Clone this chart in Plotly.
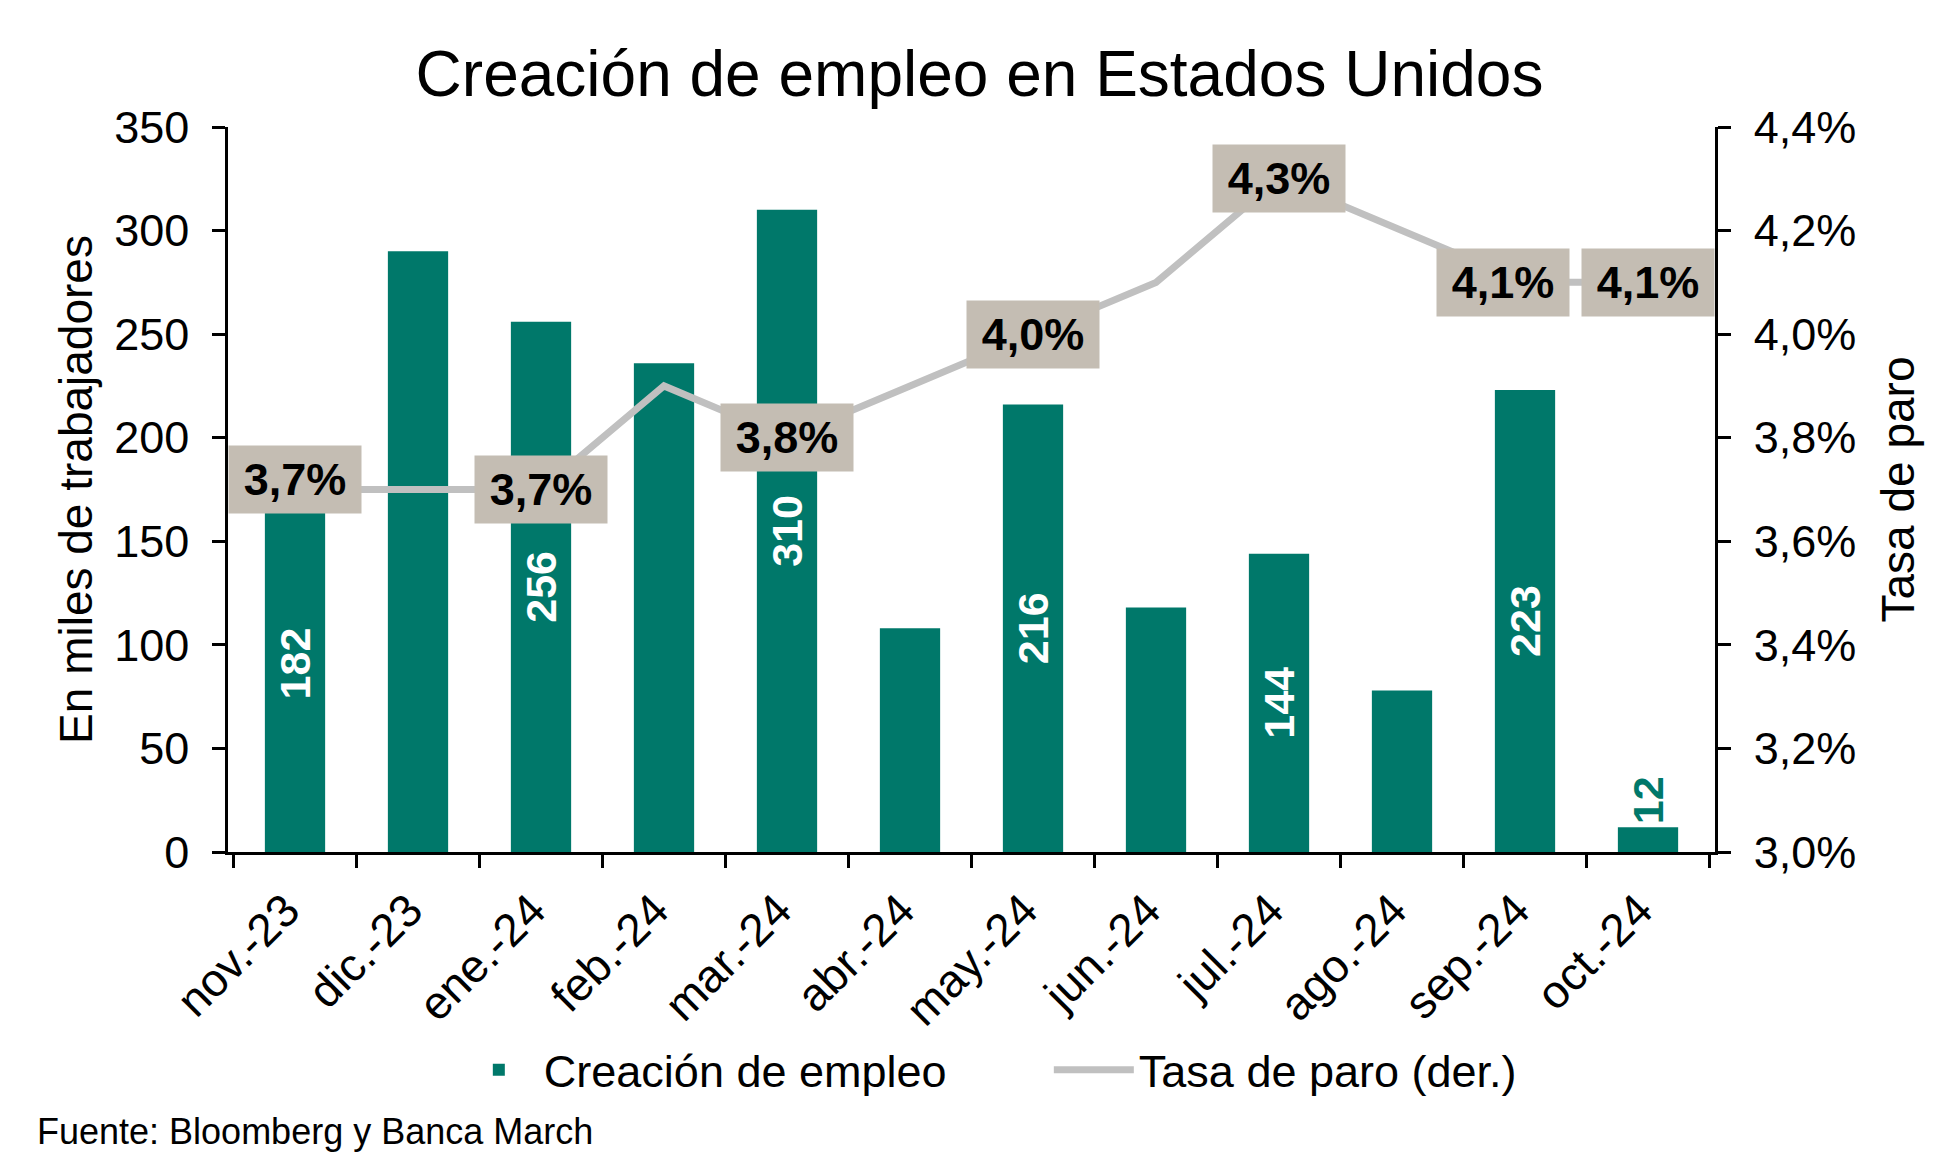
import plotly.graph_objects as go

months = ["nov.-23", "dic.-23", "ene.-24", "feb.-24", "mar.-24", "abr.-24",
          "may.-24", "jun.-24", "jul.-24", "ago.-24", "sep.-24", "oct.-24"]
empleo = [182, 290, 256, 236, 310, 108, 216, 118, 144, 78, 223, 12]
empleo_label_shown = [True, False, True, False, True, False,
                      True, False, True, False, True, True]
paro = [3.7, 3.7, 3.7, 3.9, 3.8, 3.9, 4.0, 4.1, 4.3, 4.2, 4.1, 4.1]
paro_label_shown = [True, False, True, False, True, False,
                    True, False, True, False, True, True]

# small manual nudges of label boxes (pixels), as in the original chart
label_nudge = {"nov.-23": (0, 10), "sep.-24": (-22, 0)}

TEAL = "#00786A"
GRAY_LINE = "#C0C0C0"
BOX = "#C4BDB3"
FONT = "Liberation Sans, Arial, sans-serif"

# page body has an 8px margin; figure is sized so that it ends at the window edge
OFF = 8
W, H = 1951 - OFF, 1169 - OFF
L, T = 228 - OFF, 127 - OFF
plot_w, plot_h = 1487, 725
R = W - L - plot_w
B = H - T - plot_h
bottom_px = T + plot_h  # figure-px y of the x axis


def py(page_y):
    """paper y for a page pixel y (below plot area)"""
    return -((page_y - OFF) - bottom_px) / plot_h


def px(page_x):
    return ((page_x - OFF) - L) / plot_w


bar_text = [str(v) if s else "" for v, s in zip(empleo, empleo_label_shown)]
bar_pos = ["inside" if v > 40 else "outside" for v in empleo]

fig = go.Figure()
fig.add_trace(go.Bar(
    x=months, y=empleo, name="Creación de empleo",
    marker=dict(color=TEAL, line=dict(width=0)),
    text=bar_text, textposition=bar_pos, textangle=-90,
    insidetextanchor="middle",
    insidetextfont=dict(family=FONT, size=43, color="white", weight="bold"),
    outsidetextfont=dict(family=FONT, size=43, color=TEAL, weight="bold"),
    cliponaxis=False,
))
fig.add_trace(go.Scatter(
    x=months, y=paro, name="Tasa de paro (der.)", yaxis="y2",
    mode="lines", line=dict(color=GRAY_LINE, width=7),
))

annotations = []
for m, v, s in zip(months, paro, paro_label_shown):
    if s:
        dx, dy = label_nudge.get(m, (0, 0))
        annotations.append(dict(
            x=m, y=v, xref="x", yref="y2",
            text=f"{v:.1f}%".replace(".", ","), showarrow=False,
            font=dict(family=FONT, size=45, color="black", weight="bold"),
            bgcolor=BOX, width=132, height=67, borderpad=0,
            xanchor="center", yanchor="middle", xshift=dx, yshift=dy,
        ))
annotations.append(dict(
    text="Fuente: Bloomberg y Banca March", showarrow=False,
    xref="paper", yref="paper",
    x=px(35), y=py(1131),
    xanchor="left", yanchor="middle",
    font=dict(family=FONT, size=36, color="black"),
))

axis_common = dict(
    showline=True, linecolor="black", linewidth=2.5,
    ticks="outside", tickcolor="black", tickwidth=2.5, ticklen=13,
    showgrid=False, zeroline=False,
    tickfont=dict(family=FONT, size=45, color="black"),
)

fig.update_layout(
    width=W, height=H,
    margin=dict(l=L, r=R, t=T, b=B, pad=0),
    paper_bgcolor="white", plot_bgcolor="white",
    separators=", ",
    bargap=0.51,
    font=dict(family=FONT, color="black"),
    title=dict(text="Creación de empleo en Estados Unidos",
               x=0.5, xanchor="center", xref="container",
               y=1 - (74 - OFF) / H, yanchor="middle",
               font=dict(family=FONT, size=64, color="black")),
    xaxis=dict(**{**axis_common,
                  "tickfont": dict(family=FONT, size=46, color="black")},
               tickangle=-45, tickson="boundaries",
               ticklabelstandoff=10, ticklabelshift=-9),
    yaxis=dict(**axis_common, range=[0, 350], dtick=50,
               ticklabelstandoff=14,
               title=dict(text="En miles de trabajadores", standoff=8,
                          font=dict(family=FONT, size=46, color="black"))),
    yaxis2=dict(**axis_common, range=[3.0, 4.4], dtick=0.2,
                tickformat=".1f", ticksuffix="%",
                overlaying="y", side="right", ticklabelstandoff=14,
                title=dict(text="Tasa de paro", standoff=27,
                           font=dict(family=FONT, size=46, color="black"))),
    legend=dict(orientation="h", x=0.552, xanchor="center",
                y=py(1070), yanchor="middle",
                font=dict(family=FONT, size=45, color="black"),
                itemwidth=80, entrywidth=500, bgcolor="rgba(0,0,0,0)"),
    showlegend=True,
    annotations=annotations,
)

fig.write_html("out.html")
